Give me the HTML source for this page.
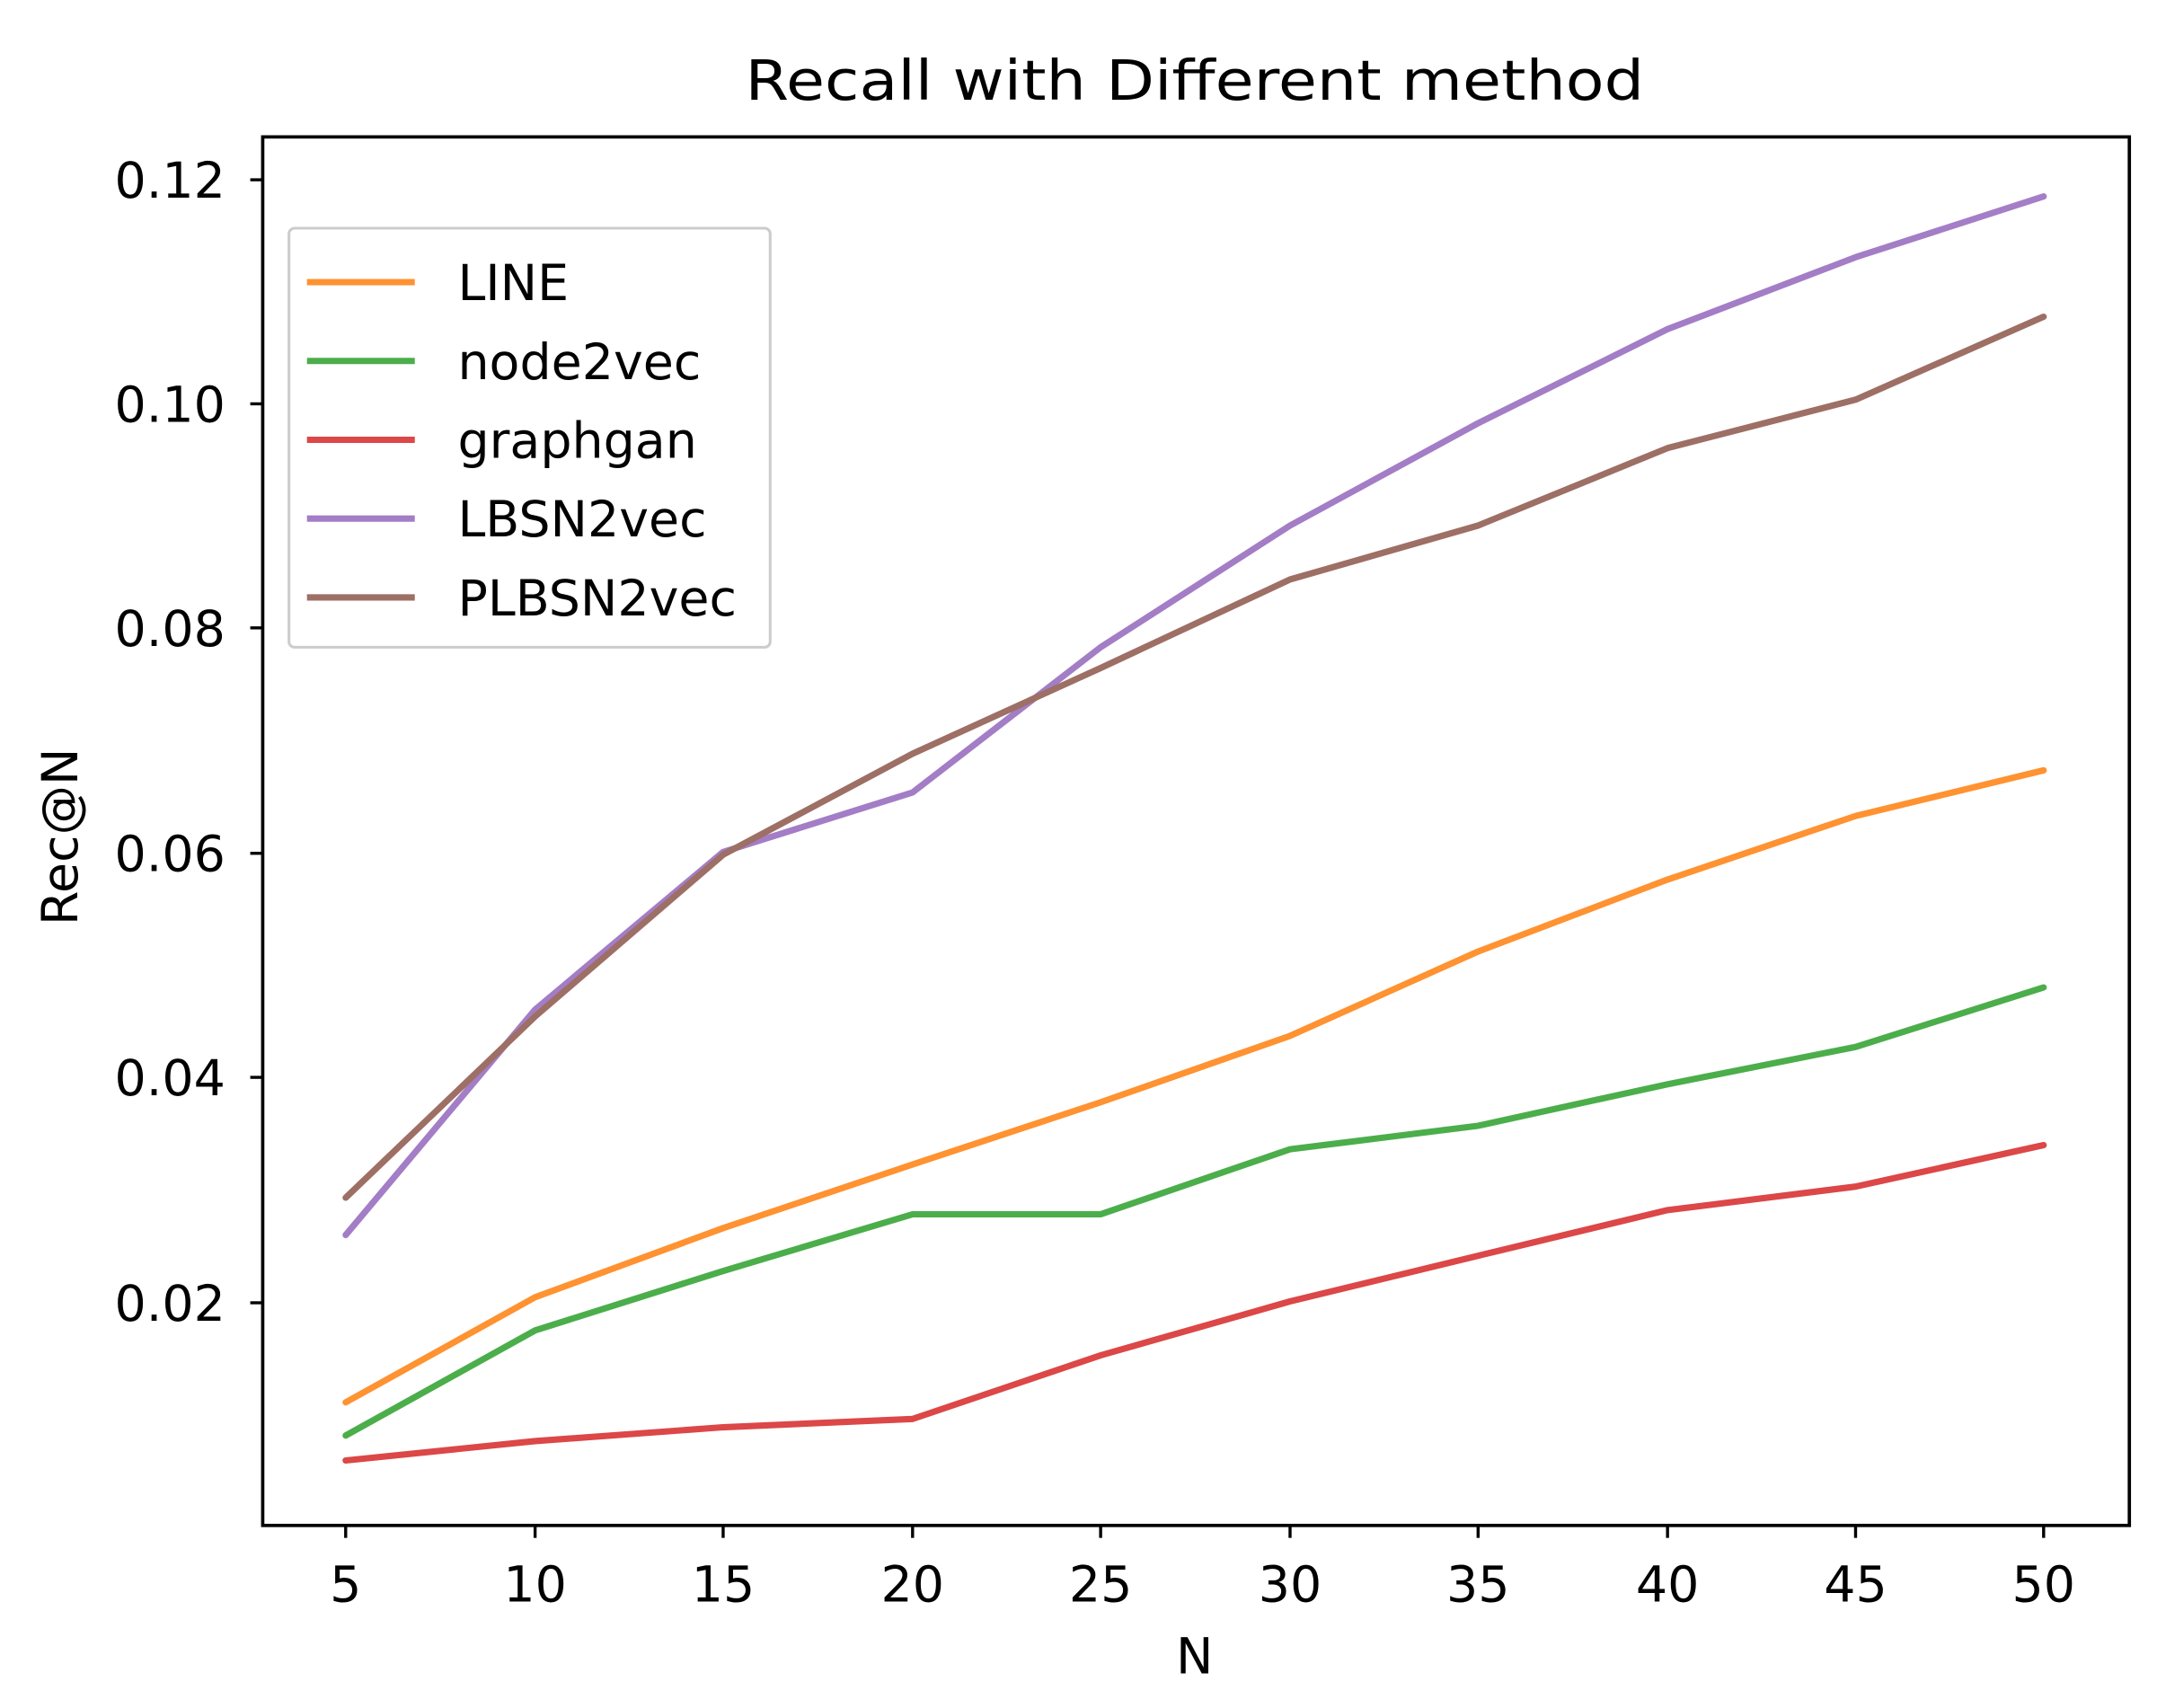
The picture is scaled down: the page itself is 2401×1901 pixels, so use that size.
<!DOCTYPE html>
<html><head><meta charset="utf-8"><style>
html,body{margin:0;padding:0;background:#fff;}
svg{display:block;}
text{font-family:"DejaVu Sans","Liberation Sans",sans-serif;fill:#000;}
</style></head><body>
<svg width="2401" height="1901" viewBox="0 0 1560 1235" preserveAspectRatio="none" xmlns="http://www.w3.org/2000/svg">
<rect width="1560" height="1235" fill="#fff"/>
<text x="864" y="72" font-size="40" text-anchor="middle" textLength="650" lengthAdjust="spacingAndGlyphs">Recall with Different method</text>
<g fill="none" stroke-width="4.6" stroke-linejoin="round" stroke-linecap="round" opacity="0.85">
<polyline stroke="#ff7f0e" points="250,1014 387,938 523,888 660,842 796,797 933,749 1069,688 1206,636 1342,590 1478,557"/>
<polyline stroke="#2ca02c" points="250,1038 387,962 523,919 660,878 796,878 933,831 1069,814 1206,784 1342,757 1478,714"/>
<polyline stroke="#d62728" points="250,1056 387,1042 523,1032 660,1026 796,980 933,941 1069,908 1206,875 1342,858 1478,828"/>
<polyline stroke="#9467bd" points="250,893 387,730 523,616 660,573 796,468 933,380 1069,306 1206,238 1342,186 1478,142"/>
<polyline stroke="#8c564b" points="250,866 387,735 523,618 660,545 796,483 933,419 1069,380 1206,324 1342,289 1478,229"/>
</g>
<rect x="190" y="99" width="1350" height="1004" fill="none" stroke="#000" stroke-width="2.4"/>
<g stroke="#000" stroke-width="2.2">
<line x1="250" y1="1103" x2="250" y2="1112"/><line x1="387" y1="1103" x2="387" y2="1112"/><line x1="523" y1="1103" x2="523" y2="1112"/><line x1="660" y1="1103" x2="660" y2="1112"/><line x1="796" y1="1103" x2="796" y2="1112"/><line x1="933" y1="1103" x2="933" y2="1112"/><line x1="1069" y1="1103" x2="1069" y2="1112"/><line x1="1206" y1="1103" x2="1206" y2="1112"/><line x1="1342" y1="1103" x2="1342" y2="1112"/><line x1="1478" y1="1103" x2="1478" y2="1112"/>
<line x1="181" y1="130" x2="190" y2="130"/><line x1="181" y1="292" x2="190" y2="292"/><line x1="181" y1="454" x2="190" y2="454"/><line x1="181" y1="617" x2="190" y2="617"/><line x1="181" y1="779" x2="190" y2="779"/><line x1="181" y1="942" x2="190" y2="942"/>
</g>
<g font-size="36" text-anchor="middle">
<text x="250" y="1158">5</text><text x="387" y="1158">10</text><text x="523" y="1158">15</text><text x="660" y="1158">20</text><text x="796" y="1158">25</text><text x="933" y="1158">30</text><text x="1069" y="1158">35</text><text x="1206" y="1158">40</text><text x="1342" y="1158">45</text><text x="1478" y="1158">50</text>
</g>
<g font-size="36" text-anchor="end">
<text x="163" y="143">0.12</text><text x="163" y="305">0.10</text><text x="163" y="467">0.08</text><text x="163" y="630">0.06</text><text x="163" y="792">0.04</text><text x="163" y="955">0.02</text>
</g>
<text x="864" y="1210" font-size="36" text-anchor="middle">N</text>
<text transform="translate(56,605) rotate(-90)" font-size="36" text-anchor="middle">Rec@N</text>
<rect x="209" y="165" width="348" height="303" rx="4" fill="#fff" fill-opacity="0.8" stroke="#ccc" stroke-width="2"/>
<g stroke-width="4.6" opacity="0.85">
<line x1="222" y1="204" x2="300" y2="204" stroke="#ff7f0e"/>
<line x1="222" y1="261" x2="300" y2="261" stroke="#2ca02c"/>
<line x1="222" y1="318" x2="300" y2="318" stroke="#d62728"/>
<line x1="222" y1="375" x2="300" y2="375" stroke="#9467bd"/>
<line x1="222" y1="432" x2="300" y2="432" stroke="#8c564b"/>
</g>
<g font-size="36">
<text x="331" y="217">LINE</text>
<text x="331" y="274">node2vec</text>
<text x="331" y="331">graphgan</text>
<text x="331" y="388">LBSN2vec</text>
<text x="331" y="445">PLBSN2vec</text>
</g>
</svg>
</body></html>
